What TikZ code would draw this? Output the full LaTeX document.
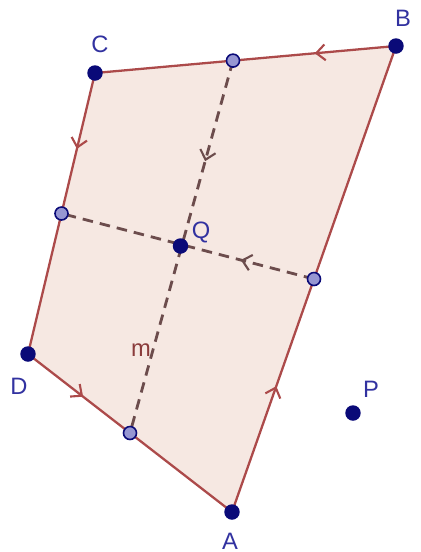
\documentclass[tikz,border=0pt]{standalone}
\usepackage{fontspec}
\setmainfont{Liberation Sans}
\usetikzlibrary{arrows.meta,decorations.markings}
\definecolor{edgered}{RGB}{172,74,74}
\definecolor{facepink}{RGB}{246,232,226}
\definecolor{dashbrown}{RGB}{108,76,76}
\definecolor{ptblue}{RGB}{10,10,120}
\definecolor{midblue}{RGB}{150,150,210}
\definecolor{labblue}{RGB}{50,50,160}
\begin{document}
\begin{tikzpicture}[x=0.02cm,y=-0.02cm,
  pt/.style={circle,fill=ptblue,inner sep=0,minimum size=0.31cm},
  midpt/.style={circle,draw=ptblue,fill=midblue,line width=0.9pt,inner sep=0,minimum size=0.26cm},
  lab/.style={text=labblue,font=\fontsize{13.5}{15}\selectfont},
  side/.style={draw=edgered,line width=1.3pt},
  midline/.style={draw=dashbrown,line width=1.6pt,dash pattern=on 6pt off 4pt},
  tick/.style={decoration={markings,mark=at position #1 with {\arrow[line width=1.2pt,solid]{Straight Barb[length=5pt,width=9pt]}}},postaction=decorate}]
\useasboundingbox (0,0) rectangle (420,552);
% vertices
\coordinate (A) at (232,512);
\coordinate (B) at (396,46);
\coordinate (C) at (95,73);
\coordinate (D) at (28,354);
% points on the sides
\coordinate (Mt) at (233,60.6);
\coordinate (Ml) at (61.5,213.5);
\coordinate (Mr) at (314,279);
\coordinate (Mb) at (130,433);
\coordinate (Q) at (180.5,246);
\coordinate (P) at (353,413);
\fill[facepink](A)--(B)--(C)--(D)--cycle;
\draw[side,tick=0.27](B)--(C);
\draw[side,tick=0.27](C)--(D);
\draw[side,tick=0.27](D)--(A);
\draw[side,tick=0.27](A)--(B);
\draw[midline,tick=0.27](Mt)--(Mb);
\draw[midline,tick=0.29](Mr)--(Ml);
\node[pt](nA)at(A){};
\node[pt](nB)at(B){};
\node[pt](nC)at(C){};
\node[pt](nD)at(D){};
\node[pt](nP)at(P){};
\node[pt](nQ)at(Q){};
\node[midpt](nMt)at(Mt){};
\node[midpt](nMl)at(Ml){};
\node[midpt](nMr)at(Mr){};
\node[midpt](nMb)at(Mb){};
\node[lab](lA)at(230,541){A};
\node[lab](lB)at(403,18){B};
\node[lab](lC)at(100,44){C};
\node[lab](lD)at(19,386){D};
\node[lab](lP)at(371,389){P};
\node[lab](lQ)at(201,232){Q};
\node[lab,text=edgered!80!black](lm)at(141,350){m};
\end{tikzpicture}
\end{document}
